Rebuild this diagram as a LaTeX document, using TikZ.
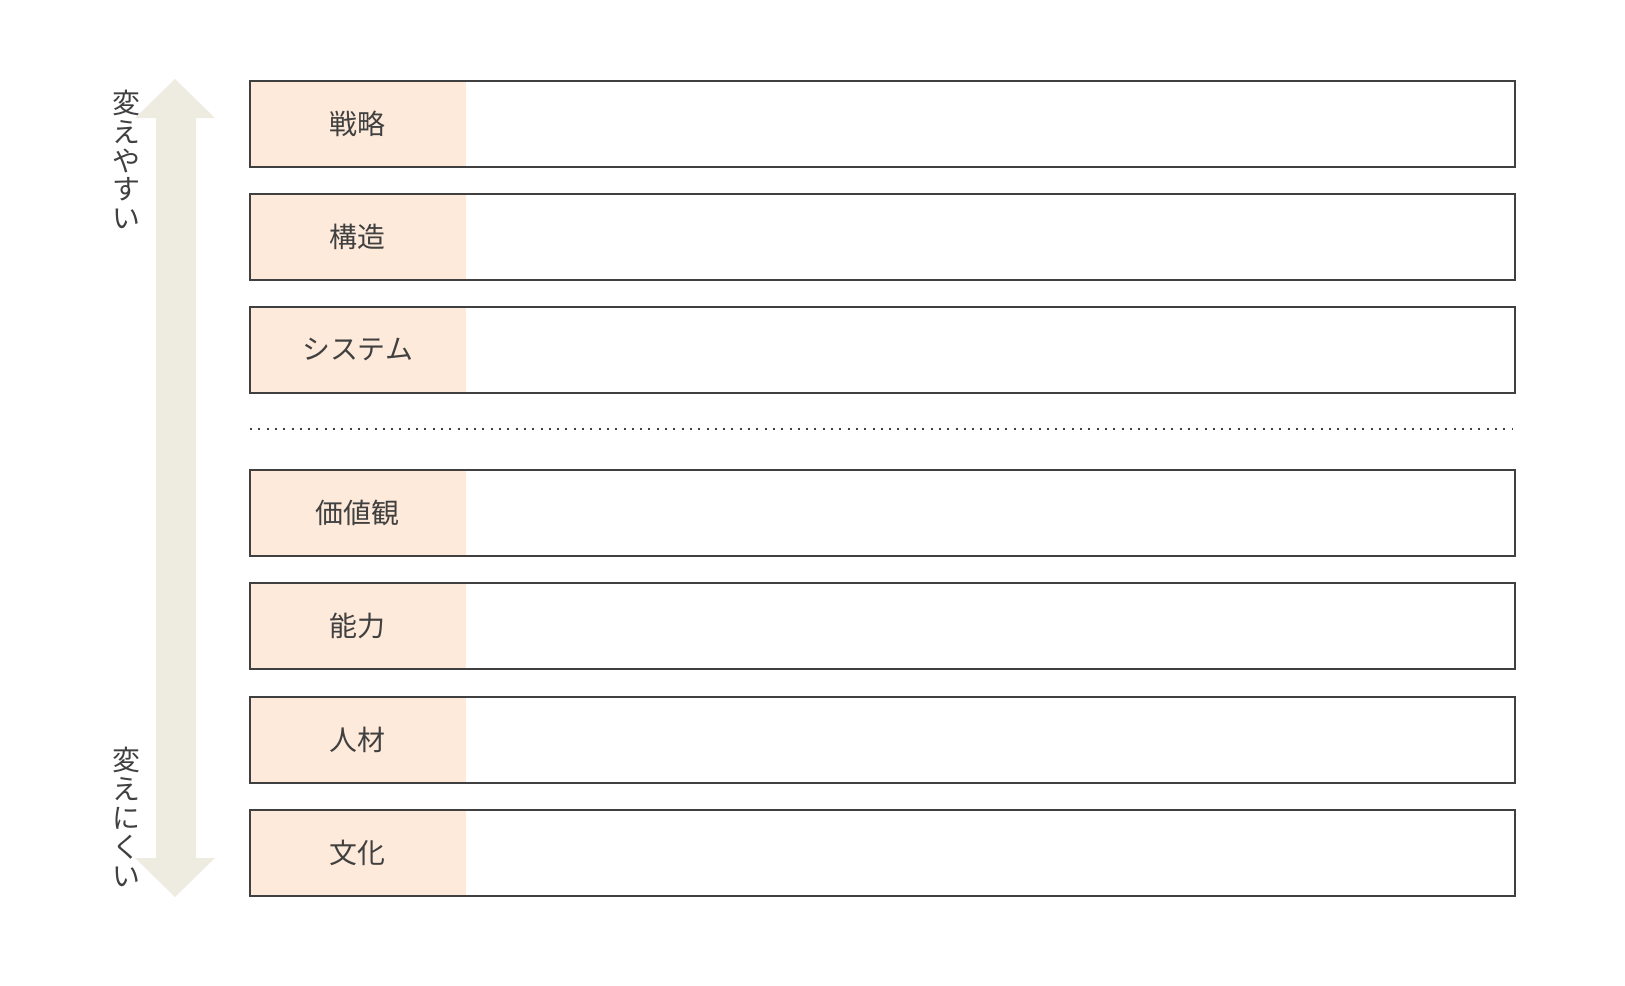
\documentclass[tikz,border=0pt]{standalone}
\usepackage{fontspec}
\usepackage{tikz}
\newfontfamily\jpfont{Noto Sans CJK JP}
\definecolor{peach}{HTML}{FDEADA}
\definecolor{arrowgray}{HTML}{EEECE1}
\definecolor{linegray}{HTML}{404040}
\tikzset{
  label/.style={shape=rectangle, fill=peach, minimum width=217bp, minimum height=88bp, inner sep=0pt,
    text=linegray, font=\jpfont\fontsize{28}{28}\selectfont},
  row/.style={shape=rectangle, draw=linegray, line width=2bp, minimum width=1265bp, minimum height=86bp},
  side/.style={align=center, inner sep=0pt, text=linegray, font=\jpfont\fontsize{28}{29}\selectfont},
  sepline/.style={draw=linegray, line width=2bp, dash pattern=on 2bp off 6.3bp}
}
\begin{document}
\begin{tikzpicture}[x=1bp, y=-1bp]
  \useasboundingbox (0, 0) rectangle (1625, 985);
  \fill[arrowgray] (175, 79) -- (215, 118) -- (196, 118) -- (196, 858) -- (215, 858)
    -- (175, 897) -- (135, 858) -- (156, 858) -- (156, 118) -- (135, 118) -- cycle;
  \node (easy) at (126, 159.5) [side] {変\\え\\や\\す\\い};
  \node (hard) at (126, 817) [side] {変\\え\\に\\く\\い};
  \node (l1) at (357.5, 123.5) [label] {戦略};
  \node (l2) at (357.5, 236.5) [label] {構造};
  \node (l3) at (357.5, 349.5) [label] {システム};
  \node (l4) at (357.5, 513) [label] {価値観};
  \node (l5) at (357.5, 626) [label] {能力};
  \node (l6) at (357.5, 739.5) [label] {人材};
  \node (l7) at (357.5, 852.5) [label] {文化};
  \node (r1) at (882.5, 123.5) [row] {};
  \node (r2) at (882.5, 236.5) [row] {};
  \node (r3) at (882.5, 349.5) [row] {};
  \node (r4) at (882.5, 513) [row] {};
  \node (r5) at (882.5, 626) [row] {};
  \node (r6) at (882.5, 739.5) [row] {};
  \node (r7) at (882.5, 852.5) [row] {};
  \coordinate (sepL) at (250, 428.5);
  \coordinate (sepR) at (1512, 428.5);
  \draw[sepline] (sepL) -- (sepR);
\end{tikzpicture}
\end{document}
